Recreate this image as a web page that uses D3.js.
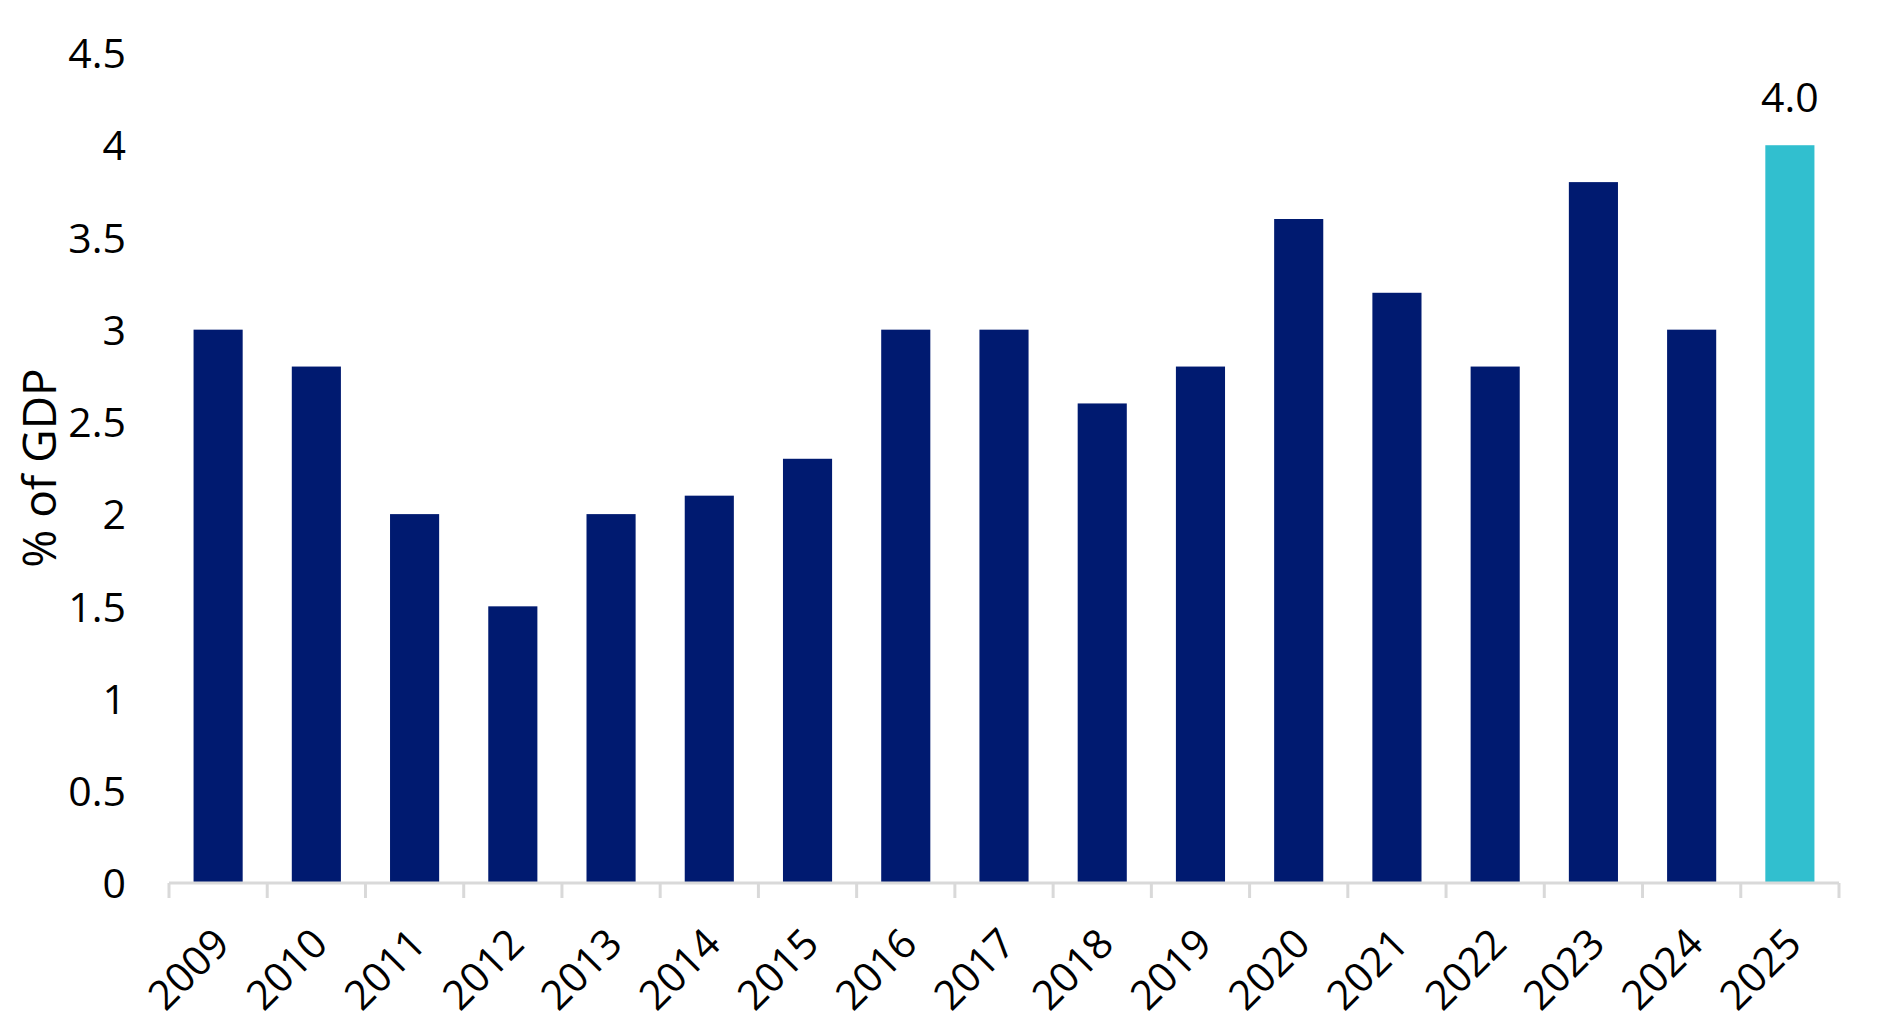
<!DOCTYPE html>
<html>
<head>
<meta charset="utf-8">
<script src="https://cdn.jsdelivr.net/npm/d3@7"></script>
<style>
  html, body { margin: 0; padding: 0; background: #fff; }
  svg text { font-family: "Open Sans", "Noto Sans", sans-serif; fill: #000; }
</style>
</head>
<body>
<div id="chart"></div>
<script>
// Data
const years = ['2009', '2010', '2011', '2012', '2013', '2014', '2015', '2016', '2017',
    '2018', '2019', '2020', '2021', '2022', '2023', '2024', '2025'];
const values = [3.0, 2.8, 2.0, 1.5, 2.0, 2.1, 2.3, 3.0, 3.0, 2.6, 2.8, 3.6, 3.2, 2.8, 3.8, 3.0, 4.0];
const yTicks = [0, 0.5, 1, 1.5, 2, 2.5, 3, 3.5, 4, 4.5];
const highlightYear = '2025';
const yLabel = '% of GDP';

const W = 1897, H = 1029;
const margin = { top: 53, right: 58, bottom: 146, left: 169 };
const width = W - margin.left - margin.right;
const height = H - margin.top - margin.bottom;

const svg = d3.select('#chart')
    .append('svg')
    .attr('width', W)
    .attr('height', H);

const g = svg.append('g')
    .attr('transform', `translate(${margin.left},${margin.top})`);

// Bars sit in the middle half of each category slot
const x = d3.scaleBand().domain(years).range([0, width])
    .paddingInner(0.5)
    .paddingOuter(0.25);
const y = d3.scaleLinear().domain([0, 4.5]).range([height, 0]);

const data = years.map((yr, i) => ({ year: yr, value: values[i] }));

// Bars
g.selectAll('.bar')
    .data(data)
    .enter()
    .append('rect')
    .attr('class', 'bar')
    .attr('x', d => x(d.year))
    .attr('y', d => y(d.value))
    .attr('width', x.bandwidth())
    .attr('height', d => height - y(d.value))
    .attr('fill', d => d.year === highlightYear ? '#31BFCF' : '#001A70');

// Value label on the highlighted bar
g.selectAll('.value-label')
    .data(data.filter(d => d.year === highlightYear))
    .enter()
    .append('text')
    .attr('x', d => x(d.year) + x.bandwidth() / 2)
    .attr('y', d => y(d.value) - 33)
    .attr('text-anchor', 'middle')
    .style('font-size', '41px')
    .text(d => d.value.toFixed(1));

// Y axis (labels only)
const yAxis = g.append('g')
    .call(d3.axisLeft(y).tickValues(yTicks).tickSize(0).tickPadding(43).tickFormat(d3.format('')));
yAxis.select('.domain').remove();
yAxis.selectAll('text')
    .style('font-size', '41px')
    .attr('dy', '0.36em');

// X axis with tick marks at slot boundaries
const xAxis = g.append('g')
    .attr('transform', `translate(0,${height})`);
xAxis.append('line')
    .attr('x1', 0).attr('x2', width)
    .attr('y1', 0).attr('y2', 0)
    .attr('stroke', '#d9d9d9')
    .attr('stroke-width', 3);
const step = x.step();
xAxis.selectAll('.tick-mark')
    .data(d3.range(years.length + 1))
    .enter()
    .append('line')
    .attr('x1', i => i * step)
    .attr('x2', i => i * step)
    .attr('y1', 0)
    .attr('y2', 15)
    .attr('stroke', '#d9d9d9')
    .attr('stroke-width', 3);

xAxis.selectAll('.x-label')
    .data(years)
    .enter()
    .append('text')
    .attr('transform', d => `translate(${x(d) + x.bandwidth() / 2 - 30},${86}) rotate(-45)`)
    .attr('text-anchor', 'middle')
    .attr('dy', '0.36em')
    .style('font-size', '41px')
    .text(d => d);

// Y axis title
svg.append('text')
    .attr('transform', `translate(56,468) rotate(-90)`)
    .attr('text-anchor', 'middle')
    .style('font-size', '46px')
    .text(yLabel);
</script>
</body>
</html>
